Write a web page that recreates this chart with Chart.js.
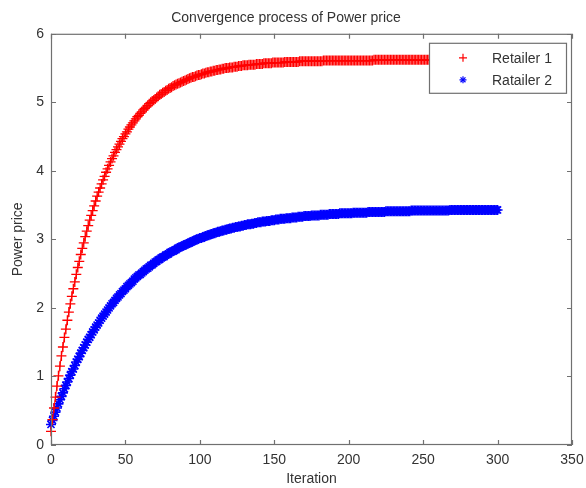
<!DOCTYPE html>
<html>
<head>
<meta charset="utf-8">
<script src="https://cdn.jsdelivr.net/npm/chart.js@4/dist/chart.umd.min.js"></script>
<style>
  html, body { margin: 0; padding: 0; background: #ffffff; }
  canvas { display: block; }
</style>
</head>
<body>
<canvas id="c" width="586" height="488"></canvas>
<script>
// ---- Data ----
const chartTitle = "Convergence process of Power price";
const xTitle = "Iteration";
const yTitle = "Power price";
const seriesNames = ["Retailer 1", "Ratailer 2"];
const xTicks = [0, 50, 100, 150, 200, 250, 300, 350];
const yTicks = [0, 1, 2, 3, 4, 5, 6];

const retailer1 = [
  0.20,0.37,0.54,0.70,0.86,1.01,1.15,1.30,1.43,1.57,
  1.69,1.82,1.94,2.06,2.17,2.28,2.38,2.49,2.59,2.68,
  2.78,2.87,2.95,3.04,3.12,3.20,3.28,3.35,3.42,3.49,
  3.56,3.63,3.69,3.75,3.81,3.87,3.92,3.98,4.03,4.08,
  4.13,4.18,4.22,4.27,4.31,4.35,4.39,4.43,4.47,4.50,
  4.54,4.57,4.61,4.64,4.67,4.70,4.73,4.76,4.79,4.81,
  4.84,4.86,4.89,4.91,4.93,4.95,4.98,5.00,5.02,5.03,
  5.05,5.07,5.09,5.11,5.12,5.14,5.15,5.17,5.18,5.20,
  5.21,5.22,5.24,5.25,5.26,5.27,5.28,5.29,5.30,5.31,
  5.32,5.33,5.34,5.35,5.36,5.37,5.37,5.38,5.39,5.40,
  5.40,5.41,5.42,5.42,5.43,5.44,5.44,5.45,5.45,5.46,
  5.46,5.47,5.47,5.48,5.48,5.49,5.49,5.50,5.50,5.50,
  5.51,5.51,5.51,5.52,5.52,5.52,5.53,5.53,5.53,5.54,
  5.54,5.54,5.54,5.55,5.55,5.55,5.55,5.55,5.56,5.56,
  5.56,5.56,5.56,5.57,5.57,5.57,5.57,5.57,5.57,5.58,
  5.58,5.58,5.58,5.58,5.58,5.58,5.58,5.59,5.59,5.59,
  5.59,5.59,5.59,5.59,5.59,5.59,5.59,5.60,5.60,5.60,
  5.60,5.60,5.60,5.60,5.60,5.60,5.60,5.60,5.60,5.60,
  5.60,5.60,5.60,5.61,5.61,5.61,5.61,5.61,5.61,5.61,
  5.61,5.61,5.61,5.61,5.61,5.61,5.61,5.61,5.61,5.61,
  5.61,5.61,5.61,5.61,5.61,5.61,5.61,5.61,5.61,5.61,
  5.61,5.61,5.61,5.61,5.61,5.61,5.61,5.62,5.62,5.62,
  5.62,5.62,5.62,5.62,5.62,5.62,5.62,5.62,5.62,5.62,
  5.62,5.62,5.62,5.62,5.62,5.62,5.62,5.62,5.62,5.62,
  5.62,5.62,5.62,5.62,5.62,5.62,5.62,5.62,5.62,5.62,
  5.62,5.62,5.62,5.62,5.62,5.62,5.62,5.62,5.62,5.62,
  5.62,5.62,5.62,5.62,5.62,5.62,5.62,5.62,5.62,5.62,
  5.62,5.62,5.62,5.62,5.62,5.62,5.62,5.62,5.62,5.62,
  5.62,5.62,5.62,5.62,5.62,5.62,5.62,5.62,5.62,5.62,
  5.62,5.62,5.62,5.62,5.62,5.62,5.62,5.62,5.62,5.62,
  5.62
];

const retailer2 = [
  0.30,0.36,0.42,0.48,0.54,0.60,0.66,0.71,0.76,0.82,
  0.87,0.92,0.97,1.02,1.07,1.11,1.16,1.21,1.25,1.29,
  1.34,1.38,1.42,1.46,1.50,1.54,1.57,1.61,1.65,1.68,
  1.72,1.75,1.78,1.82,1.85,1.88,1.91,1.94,1.97,2.00,
  2.03,2.06,2.08,2.11,2.14,2.16,2.19,2.21,2.24,2.26,
  2.28,2.31,2.33,2.35,2.37,2.39,2.42,2.44,2.46,2.48,
  2.49,2.51,2.53,2.55,2.57,2.58,2.60,2.62,2.63,2.65,
  2.67,2.68,2.70,2.71,2.73,2.74,2.75,2.77,2.78,2.79,
  2.81,2.82,2.83,2.84,2.85,2.87,2.88,2.89,2.90,2.91,
  2.92,2.93,2.94,2.95,2.96,2.97,2.98,2.99,3.00,3.01,
  3.02,3.02,3.03,3.04,3.05,3.06,3.06,3.07,3.08,3.09,
  3.09,3.10,3.11,3.11,3.12,3.13,3.13,3.14,3.14,3.15,
  3.16,3.16,3.17,3.17,3.18,3.18,3.19,3.19,3.20,3.20,
  3.21,3.21,3.22,3.22,3.22,3.23,3.23,3.24,3.24,3.25,
  3.25,3.25,3.26,3.26,3.26,3.27,3.27,3.27,3.28,3.28,
  3.28,3.29,3.29,3.29,3.30,3.30,3.30,3.30,3.31,3.31,
  3.31,3.31,3.32,3.32,3.32,3.32,3.33,3.33,3.33,3.33,
  3.34,3.34,3.34,3.34,3.34,3.35,3.35,3.35,3.35,3.35,
  3.35,3.36,3.36,3.36,3.36,3.36,3.36,3.37,3.37,3.37,
  3.37,3.37,3.37,3.37,3.38,3.38,3.38,3.38,3.38,3.38,
  3.38,3.38,3.38,3.39,3.39,3.39,3.39,3.39,3.39,3.39,
  3.39,3.39,3.39,3.40,3.40,3.40,3.40,3.40,3.40,3.40,
  3.40,3.40,3.40,3.40,3.40,3.41,3.41,3.41,3.41,3.41,
  3.41,3.41,3.41,3.41,3.41,3.41,3.41,3.41,3.41,3.41,
  3.41,3.41,3.42,3.42,3.42,3.42,3.42,3.42,3.42,3.42,
  3.42,3.42,3.42,3.42,3.42,3.42,3.42,3.42,3.42,3.42,
  3.42,3.42,3.42,3.42,3.42,3.42,3.42,3.42,3.43,3.43,
  3.43,3.43,3.43,3.43,3.43,3.43,3.43,3.43,3.43,3.43,
  3.43,3.43,3.43,3.43,3.43,3.43,3.43,3.43,3.43,3.43,
  3.43,3.43,3.43,3.43,3.43,3.43,3.43,3.43,3.43,3.43,
  3.43
];

// iteration index for each value (0, 1, 2, ...)
const iterations = retailer1.map((_, i) => i);

// ---- Styling ----
const FONT = "'Liberation Sans', Arial, Helvetica, sans-serif";
const TEXT = '#333333';
const AXIS = '#707070';
const RED = '#ff0000';
const BLUE = '#0000ff';

function drawCross(ctx, x, y, r) {
  ctx.beginPath();
  ctx.moveTo(x - r, y); ctx.lineTo(x + r, y);
  ctx.moveTo(x, y - r); ctx.lineTo(x, y + r);
  ctx.stroke();
}
function drawStar(ctx, x, y, r) {
  drawCross(ctx, x, y, r);
  const d = r * Math.SQRT1_2;
  ctx.beginPath();
  ctx.moveTo(x - d, y - d); ctx.lineTo(x + d, y + d);
  ctx.moveTo(x - d, y + d); ctx.lineTo(x + d, y - d);
  ctx.stroke();
}

const frame = {
  id: 'matlabFrame',
  afterDraw(chart) {
    const { ctx, chartArea: a, scales: { x, y } } = chart;
    ctx.save();
    // axes box
    ctx.strokeStyle = AXIS;
    ctx.lineWidth = 1.2;
    ctx.strokeRect(a.left + 0.5, a.top + 0.5, a.right - a.left - 1, a.bottom - a.top - 1);
    // inward ticks
    const tl = 5;
    ctx.beginPath();
    x.ticks.forEach(t => {
      const px = Math.round(x.getPixelForValue(t.value)) + 0.5;
      ctx.moveTo(px, a.bottom); ctx.lineTo(px, a.bottom - tl);
      ctx.moveTo(px, a.top); ctx.lineTo(px, a.top + tl);
    });
    y.ticks.forEach(t => {
      const py = Math.round(y.getPixelForValue(t.value)) + 0.5;
      ctx.moveTo(a.left, py); ctx.lineTo(a.left + tl, py);
      ctx.moveTo(a.right, py); ctx.lineTo(a.right - tl, py);
    });
    ctx.stroke();

    // legend box
    const w = 137, h = 50;
    const lx = a.right - 6 - w, ly = a.top + 9;
    ctx.fillStyle = '#ffffff';
    ctx.fillRect(lx, ly, w, h);
    ctx.strokeStyle = AXIS;
    ctx.lineWidth = 1.2;
    ctx.strokeRect(lx + 0.5, ly + 0.5, w, h);
    const ds = chart.data.datasets;
    ctx.font = '14px ' + FONT;
    ctx.textBaseline = 'middle';
    ctx.textAlign = 'left';
    ds.forEach((d, i) => {
      const cy = ly + 15 + i * 22;
      const mx = lx + 34;
      ctx.strokeStyle = d.pointBorderColor;
      ctx.lineWidth = 1.2;
      if (d.pointStyle === 'cross') drawCross(ctx, mx, cy, 4); else drawStar(ctx, mx, cy, 3.5);
      ctx.fillStyle = TEXT;
      ctx.fillText(d.label, lx + 63, cy + 1);
    });
    ctx.restore();
  }
};

const ctx = document.getElementById('c').getContext('2d');
new Chart(ctx, {
  type: 'scatter',
  data: {
    datasets: [
      {
        label: seriesNames[0],
        data: iterations.map((it, i) => ({ x: it, y: retailer1[i] })),
        showLine: true,
        borderColor: RED,
        borderWidth: 1,
        pointStyle: 'cross',
        pointRadius: 5,
        pointBorderColor: RED,
        pointBackgroundColor: RED,
        pointBorderWidth: 1.3,
        clip: false
      },
      {
        label: seriesNames[1],
        data: iterations.map((it, i) => ({ x: it, y: retailer2[i] })),
        showLine: true,
        borderColor: BLUE,
        borderWidth: 1,
        pointStyle: 'star',
        pointRadius: 5,
        pointBorderColor: BLUE,
        pointBackgroundColor: BLUE,
        pointBorderWidth: 1.6,
        clip: false
      }
    ]
  },
  options: {
    responsive: false,
    animation: false,
    events: [],
    layout: { padding: { left: 0, right: 14, top: 0, bottom: 0 } },
    plugins: {
      legend: { display: false },
      tooltip: { enabled: false },
      title: {
        display: true,
        text: chartTitle,
        color: TEXT,
        font: { family: FONT, size: 14, weight: 'normal' },
        padding: { top: 10, bottom: 7 }
      }
    },
    scales: {
      x: {
        type: 'linear',
        min: xTicks[0],
        max: xTicks[xTicks.length - 1],
        afterBuildTicks: s => { s.ticks = xTicks.map(v => ({ value: v })); },
        afterFit: s => { s.height = 43; s.paddingLeft = 0; s.paddingRight = 0; },
        grid: { display: false, drawTicks: false },
        border: { display: false },
        ticks: { color: TEXT, padding: 7, maxRotation: 0, font: { family: FONT, size: 14 } },
        title: {
          display: true, text: xTitle, color: TEXT,
          font: { family: FONT, size: 14 }, padding: { top: 0, bottom: 0 }
        }
      },
      y: {
        type: 'linear',
        min: yTicks[0],
        max: yTicks[yTicks.length - 1],
        afterBuildTicks: s => { s.ticks = yTicks.map(v => ({ value: v })); },
        afterFit: s => { s.width = 51; s.paddingTop = 0; s.paddingBottom = 0; },
        grid: { display: false, drawTicks: false },
        border: { display: false },
        ticks: { color: TEXT, padding: 7, font: { family: FONT, size: 14 } },
        title: {
          display: true, text: yTitle, color: TEXT,
          font: { family: FONT, size: 14 }, padding: { top: 10, bottom: 0 }
        }
      }
    }
  },
  plugins: [frame]
});
</script>
</body>
</html>
